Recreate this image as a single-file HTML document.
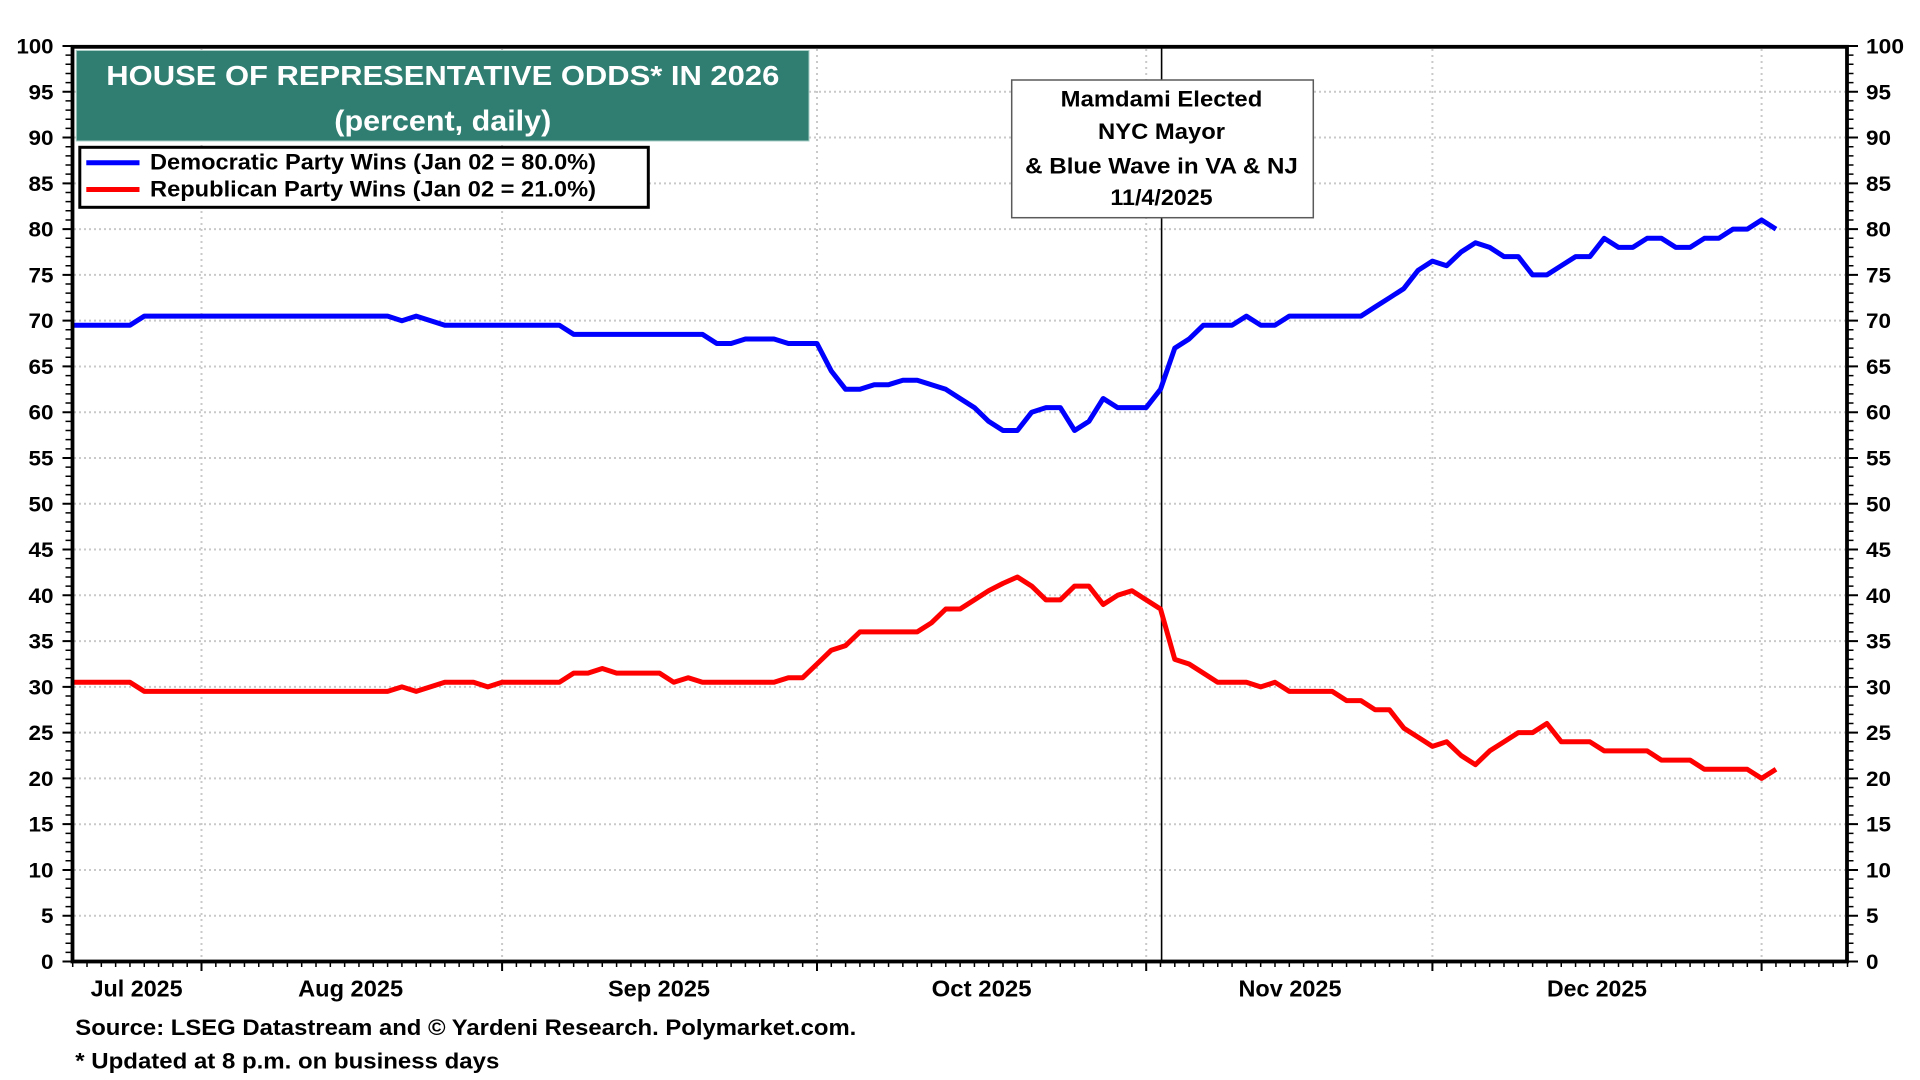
<!DOCTYPE html>
<html>
<head>
<meta charset="utf-8">
<style>
  html, body { margin: 0; padding: 0; background: #ffffff; }
  svg { display: block; }
  text { font-family: "Liberation Sans", Arial, sans-serif; font-weight: bold; fill: #000; }
</style>
</head>
<body>
<svg width="1920" height="1080" viewBox="0 0 1920 1080" xmlns="http://www.w3.org/2000/svg">
  <rect x="0" y="0" width="1920" height="1080" fill="#ffffff"/>

  <!-- horizontal gridlines -->
  <g stroke="#c9c9c9" stroke-width="2" stroke-dasharray="2 3">
    <line x1="74" x2="1845" y1="915.7" y2="915.7"/>
    <line x1="74" x2="1845" y1="869.95" y2="869.95"/>
    <line x1="74" x2="1845" y1="824.2" y2="824.2"/>
    <line x1="74" x2="1845" y1="778.4" y2="778.4"/>
    <line x1="74" x2="1845" y1="732.6" y2="732.6"/>
    <line x1="74" x2="1845" y1="686.85" y2="686.85"/>
    <line x1="74" x2="1845" y1="641.1" y2="641.1"/>
    <line x1="74" x2="1845" y1="595.3" y2="595.3"/>
    <line x1="74" x2="1845" y1="549.5" y2="549.5"/>
    <line x1="74" x2="1845" y1="503.75" y2="503.75"/>
    <line x1="74" x2="1845" y1="458.0" y2="458.0"/>
    <line x1="74" x2="1845" y1="412.2" y2="412.2"/>
    <line x1="74" x2="1845" y1="366.5" y2="366.5"/>
    <line x1="74" x2="1845" y1="320.65" y2="320.65"/>
    <line x1="74" x2="1845" y1="274.9" y2="274.9"/>
    <line x1="74" x2="1845" y1="229.1" y2="229.1"/>
    <line x1="74" x2="1845" y1="183.4" y2="183.4"/>
    <line x1="74" x2="1845" y1="137.55" y2="137.55"/>
    <line x1="74" x2="1845" y1="91.8" y2="91.8"/>
  </g>
  <!-- vertical gridlines at month starts -->
  <g stroke="#c9c9c9" stroke-width="2" stroke-dasharray="2 4">
    <line x1="201.5" x2="201.5" y1="49" y2="960"/>
    <line x1="502.1" x2="502.1" y1="49" y2="960"/>
    <line x1="817.0" x2="817.0" y1="49" y2="960"/>
    <line x1="1146.2" x2="1146.2" y1="49" y2="960"/>
    <line x1="1432.4" x2="1432.4" y1="49" y2="960"/>
    <line x1="1761.6" x2="1761.6" y1="49" y2="960"/>
  </g>

  <!-- event line -->
  <line x1="1161.6" x2="1161.6" y1="47" y2="961" stroke="#000" stroke-width="1.6"/>

  <!-- series -->
  <polyline fill="none" stroke="#0000ff" stroke-width="5" stroke-linejoin="round" stroke-linecap="butt"
    points="72.7,325.2 129.9,325.2 144.3,316.1 387.6,316.1 401.9,320.7 416.2,316.1 444.8,325.2 559.3,325.2 573.7,334.4 702.5,334.4 716.8,343.5 731.1,343.5 745.4,339.0 774.0,339.0 788.4,343.5 817.0,343.5 831.3,371.0 845.6,389.3 859.9,389.3 874.2,384.7 888.5,384.7 902.9,380.2 917.2,380.2 931.5,384.7 945.8,389.3 960.1,398.5 974.4,407.6 988.7,421.4 1003.0,430.5 1017.4,430.5 1031.7,412.2 1046.0,407.6 1060.3,407.6 1074.6,430.5 1088.9,421.4 1103.2,398.5 1117.6,407.6 1146.2,407.6 1160.5,389.3 1174.8,348.1 1189.1,339.0 1203.4,325.2 1232.1,325.2 1246.4,316.1 1260.7,325.2 1275.0,325.2 1289.3,316.1 1360.9,316.1 1375.2,306.9 1389.5,297.8 1403.8,288.6 1418.1,270.3 1432.4,261.1 1446.7,265.7 1461.1,252.0 1475.4,242.8 1489.7,247.4 1504.0,256.6 1518.3,256.6 1532.6,274.9 1546.9,274.9 1561.3,265.7 1575.6,256.6 1589.9,256.6 1604.2,238.3 1618.5,247.4 1632.8,247.4 1647.1,238.3 1661.4,238.3 1675.8,247.4 1690.1,247.4 1704.4,238.3 1718.7,238.3 1733.0,229.1 1747.3,229.1 1761.6,220.0 1776.0,229.1"/>
  <polyline fill="none" stroke="#ff0000" stroke-width="5" stroke-linejoin="round" stroke-linecap="butt"
    points="72.7,682.3 129.9,682.3 144.3,691.4 387.6,691.4 401.9,686.9 416.2,691.4 444.8,682.3 473.5,682.3 487.8,686.9 502.1,682.3 559.3,682.3 573.7,673.1 588.0,673.1 602.3,668.5 616.6,673.1 659.5,673.1 673.8,682.3 688.2,677.7 702.5,682.3 774.0,682.3 788.4,677.7 802.7,677.7 817.0,664.0 831.3,650.2 845.6,645.6 859.9,631.9 917.2,631.9 931.5,622.8 945.8,609.0 960.1,609.0 974.4,599.9 988.7,590.7 1003.0,583.4 1017.4,577.0 1031.7,586.1 1046.0,599.9 1060.3,599.9 1074.6,586.1 1088.9,586.1 1103.2,604.5 1117.6,595.3 1131.9,590.7 1146.2,599.9 1160.5,609.0 1174.8,659.4 1189.1,664.0 1203.4,673.1 1217.7,682.3 1246.4,682.3 1260.7,686.9 1275.0,682.3 1289.3,691.4 1332.2,691.4 1346.6,700.6 1360.9,700.6 1375.2,709.8 1389.5,709.8 1403.8,728.1 1418.1,737.2 1432.4,746.4 1446.7,741.8 1461.1,755.5 1475.4,764.7 1489.7,750.9 1504.0,741.8 1518.3,732.6 1532.6,732.6 1546.9,723.5 1561.3,741.8 1589.9,741.8 1604.2,750.9 1647.1,750.9 1661.4,760.1 1690.1,760.1 1704.4,769.3 1747.3,769.3 1761.6,778.4 1776.0,769.3"/>

  <!-- frame -->
  <rect x="72.5" y="46.8" width="1774.5" height="914.7" fill="none" stroke="#000" stroke-width="3.8"/>

  <!-- y ticks (left) -->
  <line x1="68.5" x2="68.5" y1="962.25" y2="44" stroke="#000" stroke-width="6" stroke-dasharray="1.5 7.655"/>
  <line x1="67" x2="67" y1="962.5" y2="44" stroke="#000" stroke-width="9" stroke-dasharray="2 43.775"/>
  <!-- y ticks (right) -->
  <line x1="1850.5" x2="1850.5" y1="962.25" y2="44" stroke="#000" stroke-width="6" stroke-dasharray="1.5 7.655"/>
  <line x1="1852.5" x2="1852.5" y1="962.5" y2="44" stroke="#000" stroke-width="11" stroke-dasharray="2 43.775"/>
  <!-- x ticks -->
  <line x1="71.95" x2="1849" y1="964.5" y2="964.5" stroke="#000" stroke-width="5" stroke-dasharray="1.5 12.813"/>
  <g stroke="#000" stroke-width="2">
    <line x1="201.5" x2="201.5" y1="961" y2="971"/>
    <line x1="502.1" x2="502.1" y1="961" y2="971"/>
    <line x1="817.0" x2="817.0" y1="961" y2="971"/>
    <line x1="1146.2" x2="1146.2" y1="961" y2="971"/>
    <line x1="1432.4" x2="1432.4" y1="961" y2="971"/>
    <line x1="1761.6" x2="1761.6" y1="961" y2="971"/>
  </g>

  <!-- left y labels -->
  <g font-size="21" text-anchor="end">
    <text x="53.5" y="53.5" textLength="37" lengthAdjust="spacingAndGlyphs">100</text>
    <text x="53.5" y="99.3" textLength="25" lengthAdjust="spacingAndGlyphs">95</text>
    <text x="53.5" y="145.05" textLength="25" lengthAdjust="spacingAndGlyphs">90</text>
    <text x="53.5" y="190.9" textLength="25" lengthAdjust="spacingAndGlyphs">85</text>
    <text x="53.5" y="236.6" textLength="25" lengthAdjust="spacingAndGlyphs">80</text>
    <text x="53.5" y="282.4" textLength="25" lengthAdjust="spacingAndGlyphs">75</text>
    <text x="53.5" y="328.15" textLength="25" lengthAdjust="spacingAndGlyphs">70</text>
    <text x="53.5" y="374.0" textLength="25" lengthAdjust="spacingAndGlyphs">65</text>
    <text x="53.5" y="419.7" textLength="25" lengthAdjust="spacingAndGlyphs">60</text>
    <text x="53.5" y="465.5" textLength="25" lengthAdjust="spacingAndGlyphs">55</text>
    <text x="53.5" y="511.25" textLength="25" lengthAdjust="spacingAndGlyphs">50</text>
    <text x="53.5" y="557.0" textLength="25" lengthAdjust="spacingAndGlyphs">45</text>
    <text x="53.5" y="602.8" textLength="25" lengthAdjust="spacingAndGlyphs">40</text>
    <text x="53.5" y="648.6" textLength="25" lengthAdjust="spacingAndGlyphs">35</text>
    <text x="53.5" y="694.35" textLength="25" lengthAdjust="spacingAndGlyphs">30</text>
    <text x="53.5" y="740.1" textLength="25" lengthAdjust="spacingAndGlyphs">25</text>
    <text x="53.5" y="785.9" textLength="25" lengthAdjust="spacingAndGlyphs">20</text>
    <text x="53.5" y="831.7" textLength="25" lengthAdjust="spacingAndGlyphs">15</text>
    <text x="53.5" y="877.45" textLength="25" lengthAdjust="spacingAndGlyphs">10</text>
    <text x="53.5" y="923.2" textLength="12.5" lengthAdjust="spacingAndGlyphs">5</text>
    <text x="53.5" y="969.0" textLength="12.5" lengthAdjust="spacingAndGlyphs">0</text>
  </g>
  <!-- right y labels -->
  <g font-size="21" text-anchor="start">
    <text x="1866" y="53.5" textLength="38" lengthAdjust="spacingAndGlyphs">100</text>
    <text x="1866" y="99.3" textLength="25" lengthAdjust="spacingAndGlyphs">95</text>
    <text x="1866" y="145.05" textLength="25" lengthAdjust="spacingAndGlyphs">90</text>
    <text x="1866" y="190.9" textLength="25" lengthAdjust="spacingAndGlyphs">85</text>
    <text x="1866" y="236.6" textLength="25" lengthAdjust="spacingAndGlyphs">80</text>
    <text x="1866" y="282.4" textLength="25" lengthAdjust="spacingAndGlyphs">75</text>
    <text x="1866" y="328.15" textLength="25" lengthAdjust="spacingAndGlyphs">70</text>
    <text x="1866" y="374.0" textLength="25" lengthAdjust="spacingAndGlyphs">65</text>
    <text x="1866" y="419.7" textLength="25" lengthAdjust="spacingAndGlyphs">60</text>
    <text x="1866" y="465.5" textLength="25" lengthAdjust="spacingAndGlyphs">55</text>
    <text x="1866" y="511.25" textLength="25" lengthAdjust="spacingAndGlyphs">50</text>
    <text x="1866" y="557.0" textLength="25" lengthAdjust="spacingAndGlyphs">45</text>
    <text x="1866" y="602.8" textLength="25" lengthAdjust="spacingAndGlyphs">40</text>
    <text x="1866" y="648.6" textLength="25" lengthAdjust="spacingAndGlyphs">35</text>
    <text x="1866" y="694.35" textLength="25" lengthAdjust="spacingAndGlyphs">30</text>
    <text x="1866" y="740.1" textLength="25" lengthAdjust="spacingAndGlyphs">25</text>
    <text x="1866" y="785.9" textLength="25" lengthAdjust="spacingAndGlyphs">20</text>
    <text x="1866" y="831.7" textLength="25" lengthAdjust="spacingAndGlyphs">15</text>
    <text x="1866" y="877.45" textLength="25" lengthAdjust="spacingAndGlyphs">10</text>
    <text x="1866" y="923.2" textLength="12.5" lengthAdjust="spacingAndGlyphs">5</text>
    <text x="1866" y="969.0" textLength="12.5" lengthAdjust="spacingAndGlyphs">0</text>
  </g>

  <!-- month labels -->
  <g font-size="23" text-anchor="middle">
    <text x="136.6" y="996.7" textLength="92" lengthAdjust="spacingAndGlyphs">Jul 2025</text>
    <text x="350.6" y="996.7" textLength="105" lengthAdjust="spacingAndGlyphs">Aug 2025</text>
    <text x="659" y="996.7" textLength="102" lengthAdjust="spacingAndGlyphs">Sep 2025</text>
    <text x="981.6" y="996.7" textLength="100" lengthAdjust="spacingAndGlyphs">Oct 2025</text>
    <text x="1290" y="996.7" textLength="103" lengthAdjust="spacingAndGlyphs">Nov 2025</text>
    <text x="1597" y="996.7" textLength="100" lengthAdjust="spacingAndGlyphs">Dec 2025</text>
  </g>

  <!-- footnotes -->
  <text x="75.3" y="1035" font-size="22" textLength="781" lengthAdjust="spacingAndGlyphs">Source: LSEG Datastream and © Yardeni Research. Polymarket.com.</text>
  <text x="75.3" y="1068.5" font-size="22" textLength="424" lengthAdjust="spacingAndGlyphs">* Updated at 8 p.m. on business days</text>

  <!-- title box -->
  <rect x="76.3" y="50.5" width="732.7" height="90.5" fill="#2f7e71" stroke="#a9cfc6" stroke-width="1"/>
  <text x="442.8" y="85" font-size="28" text-anchor="middle" style="fill:#ffffff" textLength="673" lengthAdjust="spacingAndGlyphs">HOUSE OF REPRESENTATIVE ODDS* IN 2026</text>
  <text x="442.8" y="130.5" font-size="29" text-anchor="middle" style="fill:#ffffff" textLength="217" lengthAdjust="spacingAndGlyphs">(percent, daily)</text>

  <!-- legend -->
  <rect x="79.8" y="147.3" width="568.5" height="60" fill="#ffffff" stroke="#000" stroke-width="3"/>
  <line x1="86.3" x2="139.5" y1="162.7" y2="162.7" stroke="#0000ff" stroke-width="5"/>
  <line x1="86.3" x2="139.5" y1="189.5" y2="189.5" stroke="#ff0000" stroke-width="5"/>
  <text x="150" y="169.3" font-size="22" textLength="446" lengthAdjust="spacingAndGlyphs">Democratic Party Wins (Jan 02 = 80.0%)</text>
  <text x="150" y="196.7" font-size="22" textLength="446" lengthAdjust="spacingAndGlyphs">Republican Party Wins (Jan 02 = 21.0%)</text>

  <!-- annotation box -->
  <rect x="1011.7" y="80" width="301.6" height="137.7" fill="#ffffff" stroke="#5a5a5a" stroke-width="1.5"/>
  <g font-size="22" text-anchor="middle">
    <text x="1161.5" y="106.7" textLength="201.6" lengthAdjust="spacingAndGlyphs">Mamdami Elected</text>
    <text x="1161.5" y="139" textLength="127" lengthAdjust="spacingAndGlyphs">NYC Mayor</text>
    <text x="1161.5" y="173.3" textLength="272.7" lengthAdjust="spacingAndGlyphs">&amp; Blue Wave in VA &amp; NJ</text>
    <text x="1161.5" y="205" textLength="102.3" lengthAdjust="spacingAndGlyphs">11/4/2025</text>
  </g>
</svg>
</body>
</html>
